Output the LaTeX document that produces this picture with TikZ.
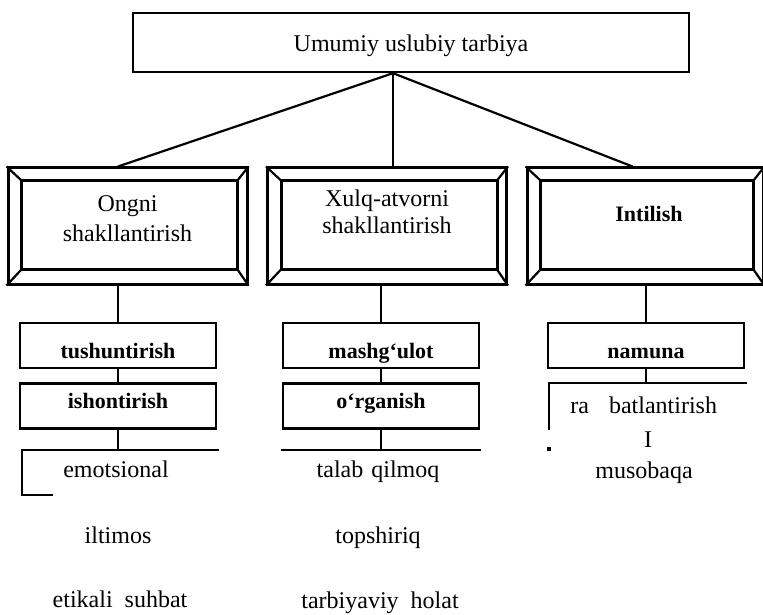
\documentclass[tikz,border=0pt]{standalone}
\usepackage{fontspec}
\setmainfont{Liberation Serif}

\begin{document}
\begin{tikzpicture}[
        x=0.5pt, y=-0.5pt,
        every node/.style = {inner sep=0pt},
        link/.style = {line width=1.1pt},
        topbox/.style = {draw, line width=1.2pt, minimum width=278pt, minimum height=29.5pt,
          font=\fontsize{12}{14}\selectfont, text height=9.5pt, text depth=0pt},
        bevel/.style = {draw, line width=1.5pt, minimum width=119.5pt, minimum height=58pt},
        frametxt/.style = {align=center, font=\fontsize{12}{15}\selectfont},
        smallbox/.style = {draw, line width=1.4pt, minimum width=98pt, minimum height=22.5pt,
          font=\fontsize{11}{13}\selectfont\bfseries},
        row1/.style = {text height=12.5pt, text depth=0pt},
        row2/.style = {text height=6pt, text depth=4pt},
        plain/.style = {anchor=base, font=\fontsize{12}{14}\selectfont},
      ]
      \useasboundingbox (0,0) rectangle (763,614);

      \node[topbox] (top) at (411,42.5) {Umumiy uslubiy tarbiya};

      \node[bevel] (ongni) at (127.5,226) {};
      \node[bevel] (xulq) at (387,226) {};
      \node[bevel, minimum width=118pt] (intil) at (645,226) {};
      \foreach \n in {ongni,xulq,intil} {
        \draw[line width=1.5pt] ([shift={(15,14)}]\n.north west) rectangle ([shift={(-11,-16)}]\n.south east);
        \draw[line width=1.1pt] (\n.north west) -- ([shift={(15,14)}]\n.north west)
          (\n.north east) -- ([shift={(-11,14)}]\n.north east)
          (\n.south west) -- ([shift={(15,-16)}]\n.south west)
          (\n.south east) -- ([shift={(-11,-16)}]\n.south east);
      }
      \node[frametxt] (ongnitxt) at (127.5,219) {Ongni\\shakllantirish};
      \node[frametxt, font=\fontsize{12}{13.5}\selectfont] (xulqtxt) at (387,212) {Xulq-atvorni\\shakllantirish};
      \node[frametxt, font=\fontsize{11}{13}\selectfont\bfseries] (intiltxt) at (649,214) {Intilish};

      \coordinate (hub) at ([xshift=-9pt]top.south);
      \draw[link] (hub) -- ([xshift=-4.75pt]ongni.north);
      \draw[link] (hub) -- (hub |- xulq.north);
      \draw[link] (hub) -- ([xshift=-6.25pt]intil.north);

      \node[smallbox, row1] (tush) at (118,345.5) {tushuntirish};
      \node[smallbox, row2] (ishon) at (118,406) {ishontirish};
      \node[smallbox, row1] (mashg) at (381,345.5) {mashg‘ulot};
      \node[smallbox, row2] (orga) at (381,406) {o‘rganish};
      \node[smallbox, row1] (namuna) at (646,345.5) {namuna};

      \draw[link] (tush.north) -- (tush.north |- ongni.south);
      \draw[link] (tush.south) -- (ishon.north);
      \draw[link] (mashg.north) -- (mashg.north |- xulq.south);
      \draw[link] (mashg.south) -- (orga.north);
      \draw[link] (namuna.north) -- (namuna.north |- intil.south);

      \coordinate (emoa) at (22,450);
      \coordinate (emob) at (219,450);
      \coordinate (emoc) at (22,495);
      \coordinate (emod) at (53,495);
      \draw[link] (emob) -- (emoa) -- (emoc) -- (emod);
      \draw[link] (ishon.south) -- (ishon.south |- emoa);

      \coordinate (tala) at (281,450);
      \coordinate (talb) at (481,450);
      \draw[link] (tala) -- (talb);
      \draw[link] (orga.south) -- (orga.south |- tala);

      \coordinate (raga) at (549,383);
      \coordinate (ragb) at (747,383);
      \coordinate (ragc) at (549,430);
      \draw[link] (ragc) -- (raga) -- (ragb);
      \draw[link] (namuna.south) -- (namuna.south |- raga);
      \fill (547,447) rectangle (551,451);

      \node[plain] (emo) at (116,477) {emotsional};
      \node[plain] (ilt) at (118,543) {iltimos};
      \node[plain] (etik) at (120,607) {etikali\hspace{6pt}suhbat};
      \node[plain] (talab) at (378,477) {talab\hspace{4pt}qilmoq};
      \node[plain] (topsh) at (378,543) {topshiriq};
      \node[plain] (tarb) at (380,608) {tarbiyaviy\hspace{6pt}holat};
      \node[plain, anchor=base west] (rag) at (570,413) {ra\hspace{10pt}batlantirish};
      \node[plain] (bar) at (648,447) {I};
      \node[plain] (muso) at (644,478) {musobaqa};

    \end{tikzpicture}
\end{document}
